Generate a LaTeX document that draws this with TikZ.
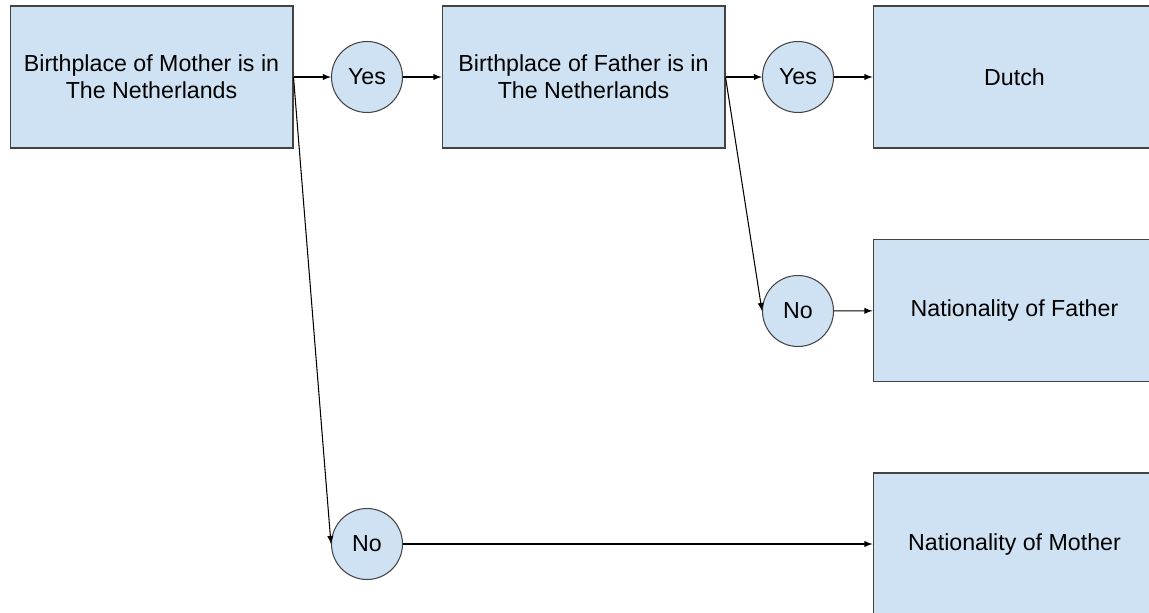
\documentclass[tikz,border=0pt]{standalone}
\usepackage{fontspec}
\setmainfont{Liberation Sans}
\usetikzlibrary{positioning,
        shapes,
        arrows.meta}
\usepackage{xcolor}
\definecolor{boxblue}{HTML}{CFE2F3}
\definecolor{edgegray}{HTML}{434343}

\begin{document}
\begin{tikzpicture}[x=0.02cm,y=-0.02cm,
        decision/.style={rectangle,draw=edgegray,line width=0.6pt,fill=boxblue,minimum width=5.66cm,minimum height=2.84cm,align=center,font=\fontsize{13.2pt}{15.4pt}\selectfont},
        answer/.style={circle,draw=edgegray,line width=0.6pt,fill=boxblue,minimum width=1.42cm,inner sep=0pt,font=\fontsize{13.2pt}{15.4pt}\selectfont},
        link/.style={-latex,line width=0.6pt}]
            \useasboundingbox (0,0) rectangle (1149,612);
            \node [decision] (Mother) at (151.5,77) {Birthplace of Mother is in\\The Netherlands};
            \node [answer] (yes1) at (367,77) {Yes};
            \node [decision] (Father) at (583.5,77) {Birthplace of Father is in\\The Netherlands};
            \node [answer] (yes2) at (798,77) {Yes};
            \node [answer] (no2) at (798,311) {No};
            \node [answer] (no1) at (367,544) {No};
            \node [decision] (Dutch) at (1014.5,77) {Dutch};
            \node [decision] (natFather) at (1014.5,310.5) {Nationality of Father};
            \node [decision] (natMother) at (1014.5,544) {Nationality of Mother};

            \draw [link] (Mother) -- (yes1);
            \draw [link] (Mother.east) -- (no1.west);
            \draw [link] (yes1) -- (Father);
            \draw [link] (Father) -- (yes2);
            \draw [link] (Father.east) -- (no2.west);
            \draw [link] (yes2) -- (Dutch);
            \draw [link] (no2) -- (natFather);
            \draw [link] (no1) -- (natMother);
        \end{tikzpicture}
\end{document}
